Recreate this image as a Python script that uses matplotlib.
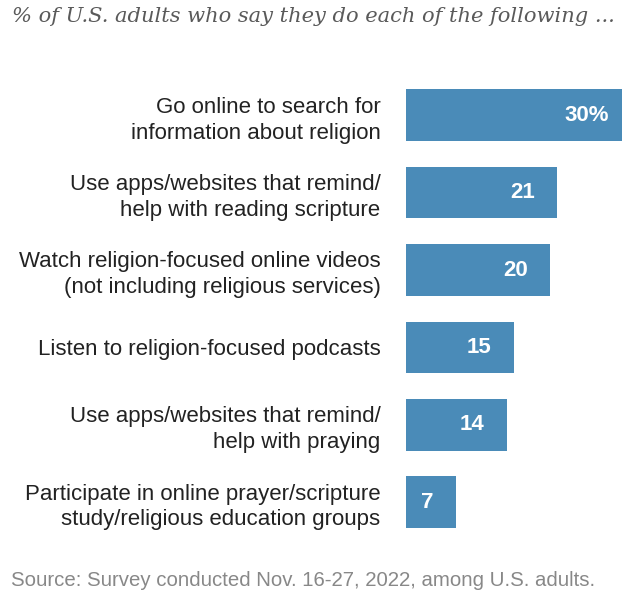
import matplotlib
matplotlib.use('Agg')
import matplotlib.pyplot as plt

labels = ['Go online to search for\ninformation about religion',
          'Use apps/websites that remind/\nhelp with reading scripture',
          'Watch religion-focused online videos\n(not including religious services)',
          'Listen to religion-focused podcasts',
          'Use apps/websites that remind/\nhelp with praying',
          'Participate in online prayer/scripture\nstudy/religious education groups']
values = [30, 21, 20, 15, 14, 7]
value_text = ['30%', '21', '20', '15', '14', '7']

title = '% of U.S. adults who say they do each of the following ...'
source = 'Source: Survey conducted Nov. 16-27, 2022, among U.S. adults.'

bar_color = '#4a8bb8'

fig = plt.figure(figsize=(6.4, 6.0), dpi=100)
ax = fig.add_axes([0.6336, 0.0985, 0.3616, 0.774])

pos = list(range(len(values)))
ax.barh(pos, values, height=0.668, color=bar_color)
ax.set_xlim(0, 32)
ax.set_ylim(5.5, -0.5)

ax.set_yticks(pos)
ax.set_yticklabels(labels, fontsize=16, family='Liberation Sans', color='#222222',
                   linespacing=1.3)
ax.tick_params(axis='y', length=0, pad=18)
ax.set_xticks([])
for s in ax.spines.values():
    s.set_visible(False)

for p, v, t in zip(pos, values, value_text):
    dx = -10 if t.endswith('%') else -16
    ax.annotate(t, (v, p), xytext=(dx, 0), textcoords='offset points',
                ha='right', va='center', color='white', fontsize=16,
                fontweight='bold', family='Liberation Sans')

fig.text(0.019, 0.973, title, ha='left', va='center', fontsize=15.1,
         style='italic', family='DejaVu Serif', color='#5a5a5a')
fig.text(0.017, 0.033, source, ha='left', va='center', fontsize=14.7,
         family='Liberation Sans', color='#888888')

fig.savefig('out.png', dpi=100)
